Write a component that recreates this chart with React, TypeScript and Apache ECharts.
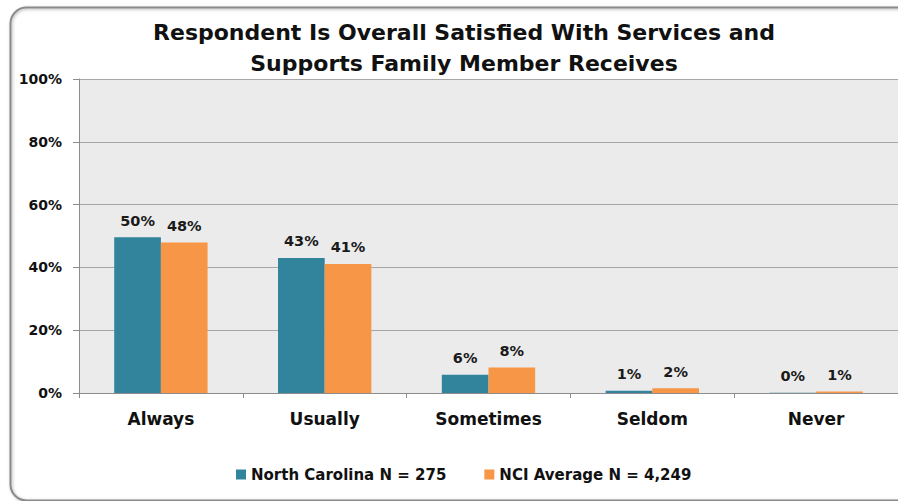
import React, { useEffect, useRef } from "react";
import * as echarts from "echarts";

const categories = ["Always", "Usually", "Sometimes", "Seldom", "Never"];
const northCarolina = [49.6, 43.0, 5.8, 0.7, 0.1];
const nciAverage = [47.9, 41.1, 8.1, 1.5, 0.5];
const ncLabels = ["50%", "43%", "6%", "1%", "0%"];
const nciLabels = ["48%", "41%", "8%", "2%", "1%"];
const seriesNames = ["North Carolina N = 275", "NCI Average N = 4,249"];
const titleText = "Respondent Is Overall Satisfied With Services and\nSupports Family Member Receives";

const FONT = "'DejaVu Sans', 'Open Sans', sans-serif";

export default function App() {
  const ref = useRef<HTMLDivElement>(null);
  useEffect(() => {
    if (!ref.current) return;
    const chart = echarts.init(ref.current, undefined, { renderer: "svg" });
    const labelStyle = (labels: string[]) => ({
      show: true,
      position: "top",
      distance: 9,
      fontFamily: FONT,
      fontWeight: "bold",
      fontSize: 14.5,
      color: "#1a1a1a",
      formatter: (p: any) => labels[p.dataIndex],
    });
    chart.setOption({
      animation: false,
      backgroundColor: "#ffffff",
      title: {
        text: titleText,
        left: 459,
        textAlign: "center",
        top: 12,
        textStyle: {
          fontFamily: FONT,
          fontWeight: "bold",
          fontSize: 22,
          lineHeight: 31,
          color: "#111",
        },
      },
      graphic: [
        {
          type: "rect",
          left: 8,
          top: 5,
          shape: { width: 930, height: 493, r: 16 },
          style: {
            fill: "none",
            stroke: "#8a8a8a",
            lineWidth: 2,
            shadowBlur: 3,
            shadowColor: "rgba(0,0,0,0.3)",
            shadowOffsetX: 1,
            shadowOffsetY: 1,
          },
          silent: true,
          z: 100,
        },
      ],
      legend: {
        bottom: 14,
        left: 231,
        itemWidth: 10,
        itemHeight: 10,
        itemGap: 38,
        icon: "rect",
        textStyle: {
          fontFamily: FONT,
          fontWeight: "bold",
          fontSize: 15,
          color: "#111",
        },
        data: seriesNames,
      },
      grid: {
        left: 79,
        top: 79,
        right: -4,
        bottom: 108,
        show: true,
        backgroundColor: "#EBEBEB",
        borderWidth: 0,
        containLabel: false,
      },
      xAxis: {
        type: "category",
        data: categories,
        axisLine: { show: true, lineStyle: { color: "#8c8c8c", width: 1 } },
        axisTick: { show: true, length: 5, alignWithLabel: false, lineStyle: { color: "#8c8c8c" } },
        axisLabel: {
          margin: 17,
          fontFamily: FONT,
          fontWeight: "bold",
          fontSize: 17,
          color: "#111",
        },
      },
      yAxis: {
        type: "value",
        min: 0,
        max: 100,
        interval: 20,
        axisLine: { show: true, lineStyle: { color: "#8c8c8c", width: 1 } },
        axisTick: { show: true, length: 6, lineStyle: { color: "#8c8c8c" } },
        axisLabel: {
          formatter: "{value}%",
          margin: 17,
          fontFamily: FONT,
          fontWeight: "bold",
          fontSize: 14,
          color: "#111",
        },
        splitLine: { show: true, lineStyle: { color: "#a6a6a6", width: 1 } },
      },
      series: [
        {
          name: seriesNames[0],
          type: "bar",
          data: northCarolina,
          barGap: "0%",
          barCategoryGap: "43%",
          itemStyle: { color: "#31849B" },
          label: labelStyle(ncLabels),
        },
        {
          name: seriesNames[1],
          type: "bar",
          data: nciAverage,
          itemStyle: { color: "#F79646" },
          label: labelStyle(nciLabels),
        },
      ],
    });
    return () => chart.dispose();
  }, []);
  return (
    <div
      style={{
        position: "fixed",
        left: 0,
        top: 0,
        width: 898,
        height: 501,
        overflow: "hidden",
      }}
    >
      <div ref={ref} style={{ width: 898, height: 501 }} />
    </div>
  );
}
